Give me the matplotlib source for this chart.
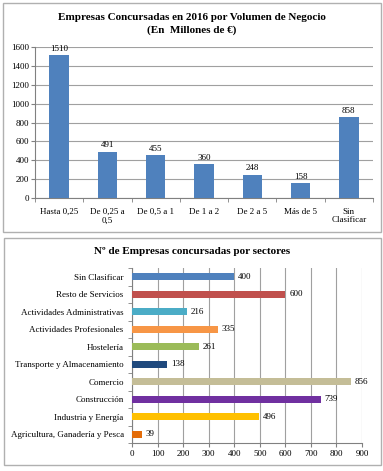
import matplotlib.pyplot as plt
from matplotlib.patches import Rectangle

plt.rcParams['font.family'] = ['Liberation Serif', 'DejaVu Serif']

# Panel superior: volumen de negocio
tramos = ["Hasta 0,25", "De 0,25 a\n0,5", "De 0,5 a 1", "De 1 a 2", "De 2 a 5", "Más de 5", "Sin\nClasificar"]
empresas_tramo = [1510, 491, 455, 360, 248, 158, 858]

# Panel inferior: sectores
sectores = ["Agricultura, Ganadería y Pesca", "Industria y Energía", "Construcción", "Comercio",
            "Transporte y Almacenamiento", "Hostelería", "Actividades Profesionales",
            "Actividades Administrativas", "Resto de Servicios", "Sin Clasificar"]
empresas_sector = [39, 496, 739, 856, 138, 261, 335, 216, 600, 400]
colores_sector = ["#E36C09", "#FFC000", "#7030A0", "#C4BD97", "#1F497D",
                  "#9BBB59", "#F79646", "#4BACC6", "#C0504D", "#4F81BD"]

W, H = 383, 471
fig = plt.figure(figsize=(W / 100, H / 100), dpi=100)


def caja(x0, y0, x1, y1):
    # y en pixeles desde arriba
    fig.patches.append(Rectangle((x0 / W, 1 - y1 / H), (x1 - x0) / W, (y1 - y0) / H,
                                 transform=fig.transFigure, fill=False,
                                 edgecolor="#B0B0B0", linewidth=1.0))


def ejes(x0, y0, x1, y1):
    return fig.add_axes([x0 / W, 1 - y1 / H, (x1 - x0) / W, (y1 - y0) / H])


grid_col = "#A0A0A0"
fs = 6.5

# ---- Grafico superior ----
caja(3, 3, 381, 232)
ax = ejes(35, 47, 373, 198)
pos = range(len(tramos))
ax.bar(pos, empresas_tramo, width=0.4, color="#4F81BD", zorder=3)
ax.set_xlim(-0.5, len(tramos) - 0.5)
ax.set_ylim(0, 1600)
ax.set_yticks(range(0, 1601, 200))
ax.yaxis.grid(True, color=grid_col, linewidth=0.8, zorder=0)
ax.set_xticks(list(pos))
ax.set_xticklabels(tramos, fontsize=fs, linespacing=1.1)
ax.set_xticks([i + 0.5 for i in range(-1, len(tramos))], minor=True)
ax.tick_params(axis="x", which="major", length=0, pad=7)
ax.tick_params(axis="x", which="minor", length=3, color="#808080")
ax.tick_params(axis="y", labelsize=fs, length=3, color="#808080", pad=1)
for s in ["top", "right"]:
    ax.spines[s].set_visible(False)
for s in ["left", "bottom"]:
    ax.spines[s].set_color("#808080")
for i, v in enumerate(empresas_tramo):
    ax.text(i, v + 25, str(v), ha="center", va="bottom", fontsize=fs)
fig.text(192 / W, 1 - 17 / H, "Empresas Concursadas en 2016 por Volumen de Negocio",
         ha="center", va="center", fontsize=8, fontweight="bold")
fig.text(192 / W, 1 - 30 / H, "(En  Millones de €)",
         ha="center", va="center", fontsize=8, fontweight="bold")

# ---- Grafico inferior ----
caja(4, 238, 381, 465)
bx = ejes(132, 268, 362, 443)
ypos = range(len(sectores))
bx.barh(ypos, empresas_sector, height=0.4, color=colores_sector, zorder=3)
bx.set_ylim(-0.5, len(sectores) - 0.5)
bx.set_xlim(0, 900)
bx.set_xticks(range(0, 901, 100))
bx.xaxis.grid(True, color=grid_col, linewidth=0.8, zorder=0)
bx.set_yticks(list(ypos))
bx.set_yticklabels(sectores, fontsize=fs)
bx.set_yticks([i + 0.5 for i in range(-1, len(sectores))], minor=True)
bx.tick_params(axis="y", which="major", length=0, pad=6)
bx.tick_params(axis="y", which="minor", length=3, color="#808080")
bx.tick_params(axis="x", labelsize=fs, length=3, color="#808080", pad=2)
for s in ["top", "right"]:
    bx.spines[s].set_visible(False)
for s in ["left", "bottom"]:
    bx.spines[s].set_color("#808080")
for i, v in enumerate(empresas_sector):
    bx.text(v + 15, i, str(v), ha="left", va="center", fontsize=fs)
fig.text(192 / W, 1 - 252 / H, "Nº de Empresas concursadas por sectores",
         ha="center", va="center", fontsize=8, fontweight="bold")

fig.savefig("out.png", dpi=100)
